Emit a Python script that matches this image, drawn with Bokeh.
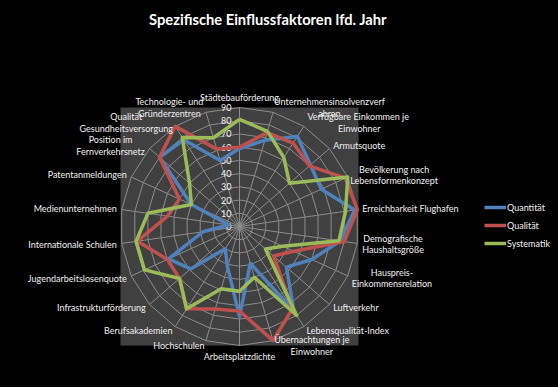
import numpy as np
from bokeh.plotting import figure
from bokeh.models import Range1d, Legend, LegendItem, Label, GlobalInlineStyleSheet
from bokeh.core.properties import value
from bokeh.embed import file_html
from bokeh.resources import INLINE

# ---------------- data ----------------
title_text = "Spezifische Einflussfaktoren lfd. Jahr"
categories = [
    "Städtebauförderung",
    "Unternehmensinsolvenzverf\nahren",
    "Verfügbare Einkommen  je\nEinwohner",
    "Armutsquote",
    "Bevölkerung nach\nLebensformenkonzept",
    "Erreichbarkeit Flughafen",
    "Demografische\nHaushaltsgröße",
    "Hauspreis-\nEinkommensrelation",
    "Luftverkehr",
    "Lebensqualität-Index",
    "Übernachtungen je\nEinwohner",
    "Arbeitsplatzdichte",
    "Hochschulen",
    "Berufsakademien",
    "Infrastrukturförderung",
    "Jugendarbeitslosenquote",
    "Internationale Schulen",
    "Medienunternehmen",
    "Patentanmeldungen",
    "Position im\nFernverkehrsnetz",
    "Qualität\nGesundheitsversorgung",
    "Technologie- und\nGründerzentren",
]
series_names = ["Quantität", "Qualität", "Systematik"]
quantitaet = [59, 68, 81, 71, 68, 88, 77, 60, 47, 76, 29, 68, 32, 20, 49, 59, 28, 8, 40, 80, 78, 52]
qualitaet  = [60, 74, 75, 70, 88, 90, 80, 45, 34, 74, 90, 64, 65, 74, 60, 60, 78, 55, 50, 80, 90, 61]
systematik = [81, 75, 62, 50, 90, 81, 76, 36, 26, 80, 40, 49, 49, 74, 60, 79, 79, 70, 40, 50, 80, 70]
ticks = [0, 10, 20, 30, 40, 50, 60, 70, 80, 90]

# ---------------- styles / layout ----------------
W, H = 558, 387
CX, CY = 239, 226          # radar centre in figure pixels (from top-left)
S = 119 / 90               # pixels per value unit
BG = "#000000"
PLOT_BG = "#404040"
GRID = "#8c8c8c"
TXT = "#f0f0f0"
FONT = "Lato"
colors = ["#4F81BD", "#C0504D", "#9BBB59"]
series = [quantitaet, qualitaet, systematik]

N = len(categories)
R = max(ticks)
theta = np.arange(N) * 2 * np.pi / N
sn, cs = np.sin(theta), np.cos(theta)

p = figure(width=W, height=H,
           x_range=Range1d(-CX / S, (W - CX) / S),
           y_range=Range1d(-(H - CY) / S, CY / S),
           output_backend="svg", toolbar_location=None,
           x_axis_type=None, y_axis_type=None, min_border=0,
           outline_line_color=None,
           background_fill_color=BG, border_fill_color=BG)
p.stylesheets = [GlobalInlineStyleSheet(css="html, body { background-color: #000000; margin: 0; }")]

# plot area
p.quad(left=[-R], right=[R], bottom=[-R], top=[R], fill_color=PLOT_BG, line_color=None)

# web grid
ring_xs = [list(t * sn) + [t * sn[0]] for t in ticks[1:]]
ring_ys = [list(t * cs) + [t * cs[0]] for t in ticks[1:]]
p.multi_line(ring_xs, ring_ys, line_color=GRID, line_width=1)
p.segment(x0=np.zeros(N), y0=np.zeros(N), x1=R * sn, y1=R * cs, line_color=GRID, line_width=1)

# value tick labels
p.text(x=[-8 / S] * len(ticks), y=ticks, text=[str(t) for t in ticks],
       text_align="right", text_baseline="middle", text_font=value(FONT),
       text_font_size="9px", text_color=TXT)

# series
renderers = []
for vals, col in zip(series, colors):
    v = np.array(vals, dtype=float)
    xs = list(v * sn) + [v[0] * sn[0]]
    ys = list(v * cs) + [v[0] * cs[0]]
    r = p.line(xs, ys, line_color=col, line_width=3.5, line_join="round")
    renderers.append(r)

# category labels (each line drawn separately)
LR = 124 / S
CHAR_W = 4.4      # approx px per character
LINE_H = 11.7     # px between lines
groups = {}
for i, lab in enumerate(categories):
    ax, ay = LR * sn[i], LR * cs[i]
    if sn[i] > 0.05:
        align = "left"
    elif sn[i] < -0.05:
        align = "right"
    else:
        align = "center"
    if cs[i] > 0.99:
        base = "bottom"
    elif cs[i] < -0.99:
        base = "top"
    else:
        base = "middle"
    lines = lab.split("\n")
    n = len(lines)
    if n > 1 and align != "center":
        w = max(len(s) for s in lines) * CHAR_W / S
        ax = ax + w / 2 if align == "left" else ax - w / 2
        align = "center"
    for k, line in enumerate(lines):
        ly = ay + ((n - 1) / 2 - k) * LINE_H / S
        groups.setdefault((align, base), []).append((ax, ly, line))

for (align, base), items in groups.items():
    p.text(x=[a[0] for a in items], y=[a[1] for a in items], text=[a[2] for a in items],
           text_align=align, text_baseline=base, text_font=value(FONT),
           text_font_size="9px", text_color=TXT)

# title
p.add_layout(Label(x=267.5, y=H - 18, x_units="screen", y_units="screen", text=title_text,
                   text_align="center", text_baseline="middle", text_font=FONT,
                   text_font_style="bold", text_font_size="14.7px", text_color="#ffffff"))

# legend
legend = Legend(items=[LegendItem(label=n, renderers=[r]) for n, r in zip(series_names, renderers)],
                location=(484, 137), orientation="vertical",
                background_fill_alpha=0, border_line_alpha=0,
                label_text_color=TXT, label_text_font=FONT, label_text_font_size="9px",
                glyph_width=22, glyph_height=14, label_height=14, spacing=4,
                padding=0, margin=0, label_standoff=1)
p.add_layout(legend)

open("out.html", "w").write(file_html(p, INLINE))
